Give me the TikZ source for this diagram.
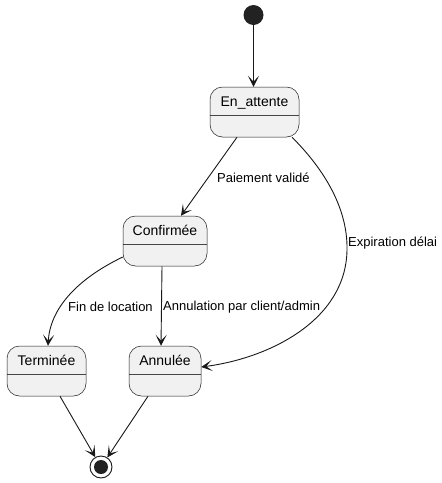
\documentclass[tikz,border=0pt]{standalone}
\usepackage{fontspec}
\setmainfont{Liberation Sans}
\usetikzlibrary{arrows.meta}
\definecolor{stfill}{HTML}{F1F1F1}
\definecolor{stline}{HTML}{181818}
\definecolor{dot}{HTML}{222222}
\begin{document}
\begin{tikzpicture}[x=1pt,y=-1pt,
  stbox/.style={draw=stline, line width=0.5pt, fill=stfill, rounded corners=12.5pt,
    inner xsep=0pt, inner ysep=0pt, text height=19pt, text depth=31pt,
    font=\fontsize{14}{16}\selectfont, text=black,
    path picture={\draw[stline!80, line width=0.5pt] ([yshift=-28pt]path picture bounding box.north west) -- ([yshift=-28pt]path picture bounding box.north east);}},
  lbl/.style={font=\fontsize{13}{15}\selectfont, inner sep=0pt, anchor=west, text=black},
  tr/.style={draw=stline, line width=0.9pt, -{Stealth[length=11pt,width=11pt,inset=6pt]}}]
\useasboundingbox (0,0) rectangle (442,483);
% states
\node[circle, fill=dot, minimum size=20pt, inner sep=0pt] (start) at (253.5,15) {};
\node[stbox, minimum width=89pt] (ea) at (254.5,112) {En\_attente};
\node[stbox, minimum width=84pt] (conf) at (165,241) {Confirmée};
\node[stbox, minimum width=79pt] (term) at (46.5,371) {Terminée};
\node[stbox, minimum width=72pt] (ann) at (165,371) {Annulée};
\node[circle, draw=stline, line width=0.9pt, fill=white, minimum size=22pt, inner sep=0pt] (end) at (101,467) {};
\node[circle, fill=dot, minimum size=14pt, inner sep=0pt] (endin) at (101,467) {};
% transitions
\draw[tr] (start) -- (start |- ea.north);
\draw[tr] ([xshift=-17.5pt]ea.south) -- ([xshift=16pt]conf.north);
\draw[tr] ([xshift=37.5pt]ea.south) .. controls (320,165) and (348,205) .. (347,250)
   .. controls (346,320) and (270,358) .. ([yshift=4pt]ann.east);
\draw[tr] ([yshift=-16pt]conf.west) .. controls (75,280) and (50,310) .. ([xshift=1.5pt]term.north);
\draw[tr] ([xshift=-3pt]conf.south) -- ([xshift=-4pt]ann.north);
\draw[tr] ([xshift=13.5pt]term.south) -- (end);
\draw[tr] ([xshift=-17pt]ann.south) -- (end);
% labels
\node[lbl] (l1) at (217,178) {Paiement validé};
\node[lbl] (l2) at (348,243) {Expiration délai};
\node[lbl] (l3) at (68,307) {Fin de location};
\node[lbl] (l4) at (163,307) {Annulation par client/admin};
\end{tikzpicture}
\end{document}
